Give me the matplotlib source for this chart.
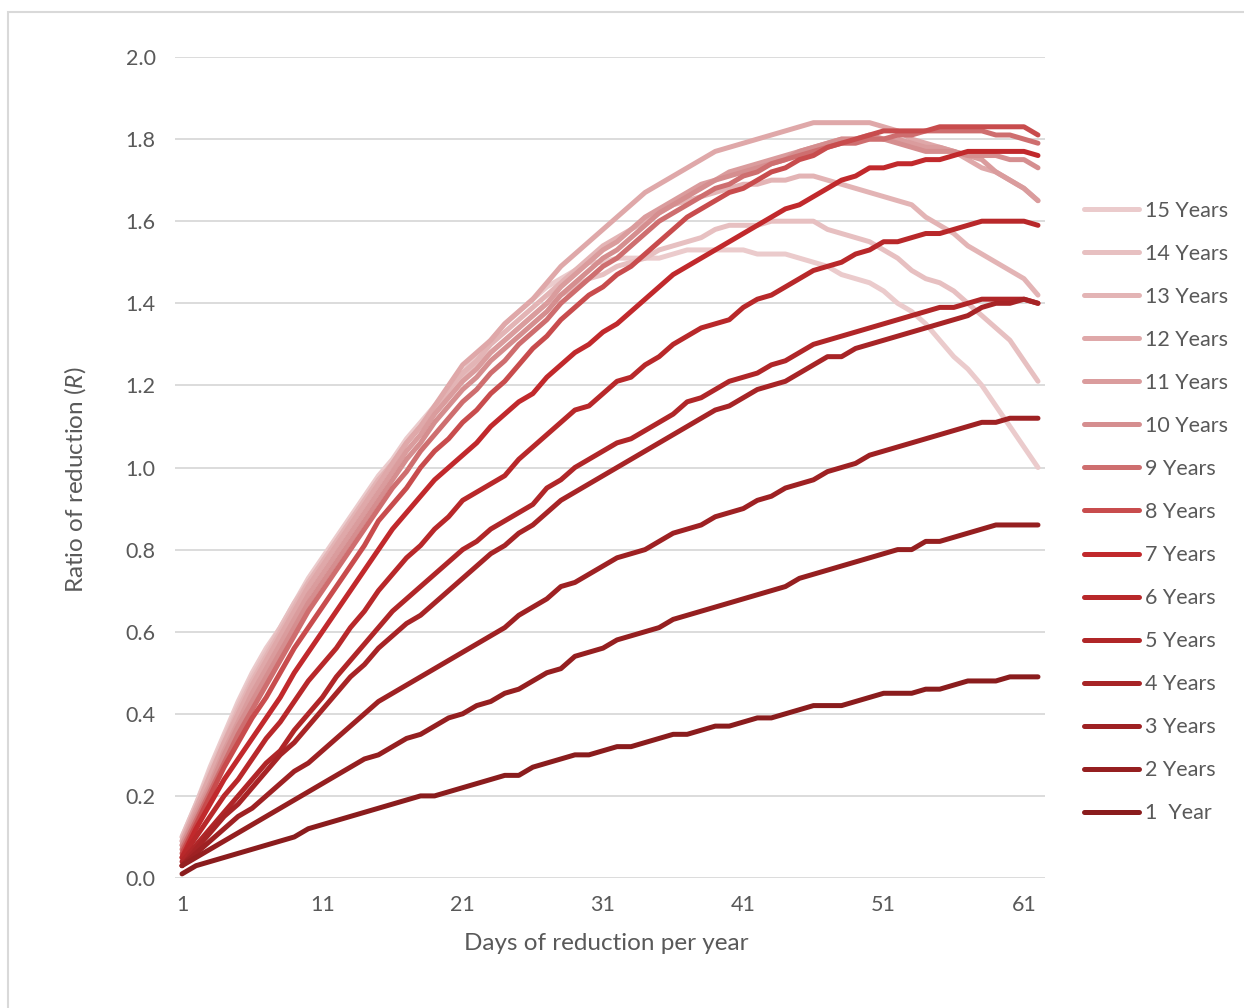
import matplotlib
matplotlib.use("Agg")
import matplotlib.pyplot as plt
from matplotlib.patches import Rectangle

plt.rcParams['font.family'] = ['Lato', 'DejaVu Sans']
plt.rcParams['mathtext.fontset'] = 'custom'
plt.rcParams['mathtext.rm'] = 'Lato'
plt.rcParams['mathtext.it'] = 'Lato:italic'

# days of reduction per year (category axis)
days = list(range(1, 63))
x_ticks = [1, 11, 21, 31, 41, 51, 61]

# ratio of reduction per number of years
r_1y = [0.01, 0.03, 0.04, 0.05, 0.06, 0.07, 0.08, 0.09, 0.10, 0.12,
        0.13, 0.14, 0.15, 0.16, 0.17, 0.18, 0.19, 0.20, 0.20, 0.21,
        0.22, 0.23, 0.24, 0.25, 0.25, 0.27, 0.28, 0.29, 0.30, 0.30,
        0.31, 0.32, 0.32, 0.33, 0.34, 0.35, 0.35, 0.36, 0.37, 0.37,
        0.38, 0.39, 0.39, 0.40, 0.41, 0.42, 0.42, 0.42, 0.43, 0.44,
        0.45, 0.45, 0.45, 0.46, 0.46, 0.47, 0.48, 0.48, 0.48, 0.49,
        0.49, 0.49]
r_2y = [0.03, 0.05, 0.07, 0.09, 0.11, 0.13, 0.15, 0.17, 0.19, 0.21,
        0.23, 0.25, 0.27, 0.29, 0.30, 0.32, 0.34, 0.35, 0.37, 0.39,
        0.40, 0.42, 0.43, 0.45, 0.46, 0.48, 0.50, 0.51, 0.54, 0.55,
        0.56, 0.58, 0.59, 0.60, 0.61, 0.63, 0.64, 0.65, 0.66, 0.67,
        0.68, 0.69, 0.70, 0.71, 0.73, 0.74, 0.75, 0.76, 0.77, 0.78,
        0.79, 0.80, 0.80, 0.82, 0.82, 0.83, 0.84, 0.85, 0.86, 0.86,
        0.86, 0.86]
r_3y = [0.03, 0.06, 0.09, 0.12, 0.15, 0.17, 0.20, 0.23, 0.26, 0.28,
        0.31, 0.34, 0.37, 0.40, 0.43, 0.45, 0.47, 0.49, 0.51, 0.53,
        0.55, 0.57, 0.59, 0.61, 0.64, 0.66, 0.68, 0.71, 0.72, 0.74,
        0.76, 0.78, 0.79, 0.80, 0.82, 0.84, 0.85, 0.86, 0.88, 0.89,
        0.90, 0.92, 0.93, 0.95, 0.96, 0.97, 0.99, 1.00, 1.01, 1.03,
        1.04, 1.05, 1.06, 1.07, 1.08, 1.09, 1.10, 1.11, 1.11, 1.12,
        1.12, 1.12]
r_4y = [0.03, 0.07, 0.11, 0.15, 0.18, 0.22, 0.26, 0.30, 0.33, 0.37,
        0.41, 0.45, 0.49, 0.52, 0.56, 0.59, 0.62, 0.64, 0.67, 0.70,
        0.73, 0.76, 0.79, 0.81, 0.84, 0.86, 0.89, 0.92, 0.94, 0.96,
        0.98, 1.00, 1.02, 1.04, 1.06, 1.08, 1.10, 1.12, 1.14, 1.15,
        1.17, 1.19, 1.20, 1.21, 1.23, 1.25, 1.27, 1.27, 1.29, 1.30,
        1.31, 1.32, 1.33, 1.34, 1.35, 1.36, 1.37, 1.39, 1.40, 1.40,
        1.41, 1.40]
r_5y = [0.04, 0.08, 0.12, 0.16, 0.20, 0.24, 0.28, 0.31, 0.36, 0.40,
        0.44, 0.49, 0.53, 0.57, 0.61, 0.65, 0.68, 0.71, 0.74, 0.77,
        0.80, 0.82, 0.85, 0.87, 0.89, 0.91, 0.95, 0.97, 1.00, 1.02,
        1.04, 1.06, 1.07, 1.09, 1.11, 1.13, 1.16, 1.17, 1.19, 1.21,
        1.22, 1.23, 1.25, 1.26, 1.28, 1.30, 1.31, 1.32, 1.33, 1.34,
        1.35, 1.36, 1.37, 1.38, 1.39, 1.39, 1.40, 1.41, 1.41, 1.41,
        1.41, 1.40]
r_6y = [0.05, 0.10, 0.15, 0.20, 0.24, 0.29, 0.34, 0.38, 0.43, 0.48,
        0.52, 0.56, 0.61, 0.65, 0.70, 0.74, 0.78, 0.81, 0.85, 0.88,
        0.92, 0.94, 0.96, 0.98, 1.02, 1.05, 1.08, 1.11, 1.14, 1.15,
        1.18, 1.21, 1.22, 1.25, 1.27, 1.30, 1.32, 1.34, 1.35, 1.36,
        1.39, 1.41, 1.42, 1.44, 1.46, 1.48, 1.49, 1.50, 1.52, 1.53,
        1.55, 1.55, 1.56, 1.57, 1.57, 1.58, 1.59, 1.60, 1.60, 1.60,
        1.60, 1.59]
r_7y = [0.05, 0.12, 0.18, 0.24, 0.29, 0.34, 0.39, 0.44, 0.50, 0.55,
        0.60, 0.65, 0.70, 0.75, 0.80, 0.85, 0.89, 0.93, 0.97, 1.00,
        1.03, 1.06, 1.10, 1.13, 1.16, 1.18, 1.22, 1.25, 1.28, 1.30,
        1.33, 1.35, 1.38, 1.41, 1.44, 1.47, 1.49, 1.51, 1.53, 1.55,
        1.57, 1.59, 1.61, 1.63, 1.64, 1.66, 1.68, 1.70, 1.71, 1.73,
        1.73, 1.74, 1.74, 1.75, 1.75, 1.76, 1.77, 1.77, 1.77, 1.77,
        1.77, 1.76]
r_8y = [0.06, 0.13, 0.20, 0.27, 0.33, 0.39, 0.44, 0.50, 0.56, 0.61,
        0.66, 0.71, 0.76, 0.81, 0.87, 0.91, 0.95, 1.00, 1.04, 1.07,
        1.11, 1.14, 1.18, 1.21, 1.25, 1.29, 1.32, 1.36, 1.39, 1.42,
        1.44, 1.47, 1.49, 1.52, 1.55, 1.58, 1.61, 1.63, 1.65, 1.67,
        1.68, 1.70, 1.72, 1.73, 1.75, 1.76, 1.78, 1.79, 1.80, 1.81,
        1.82, 1.82, 1.82, 1.82, 1.83, 1.83, 1.83, 1.83, 1.83, 1.83,
        1.83, 1.81]
r_9y = [0.07, 0.14, 0.21, 0.28, 0.35, 0.41, 0.47, 0.53, 0.59, 0.65,
        0.70, 0.75, 0.80, 0.85, 0.90, 0.95, 0.99, 1.04, 1.08, 1.12,
        1.16, 1.19, 1.23, 1.26, 1.30, 1.33, 1.36, 1.40, 1.43, 1.46,
        1.49, 1.51, 1.54, 1.57, 1.60, 1.62, 1.64, 1.66, 1.68, 1.69,
        1.71, 1.72, 1.74, 1.75, 1.76, 1.77, 1.78, 1.79, 1.79, 1.80,
        1.80, 1.81, 1.81, 1.82, 1.82, 1.82, 1.82, 1.82, 1.81, 1.81,
        1.80, 1.79]
r_10y = [0.08, 0.15, 0.22, 0.30, 0.37, 0.43, 0.49, 0.55, 0.61, 0.67,
         0.72, 0.77, 0.82, 0.87, 0.92, 0.97, 1.02, 1.06, 1.11, 1.15,
         1.19, 1.22, 1.26, 1.29, 1.32, 1.35, 1.38, 1.42, 1.45, 1.48,
         1.51, 1.53, 1.56, 1.59, 1.62, 1.64, 1.66, 1.68, 1.70, 1.71,
         1.72, 1.73, 1.74, 1.75, 1.77, 1.78, 1.79, 1.80, 1.80, 1.81,
         1.80, 1.79, 1.78, 1.77, 1.77, 1.77, 1.76, 1.76, 1.76, 1.75,
         1.75, 1.73]
r_11y = [0.08, 0.16, 0.23, 0.31, 0.38, 0.45, 0.51, 0.57, 0.63, 0.69,
         0.74, 0.79, 0.84, 0.89, 0.94, 0.99, 1.04, 1.08, 1.13, 1.17,
         1.21, 1.24, 1.28, 1.31, 1.34, 1.37, 1.40, 1.44, 1.47, 1.50,
         1.53, 1.55, 1.58, 1.61, 1.63, 1.65, 1.67, 1.69, 1.70, 1.72,
         1.73, 1.74, 1.75, 1.76, 1.77, 1.78, 1.79, 1.80, 1.80, 1.80,
         1.80, 1.80, 1.79, 1.78, 1.78, 1.77, 1.76, 1.75, 1.72, 1.70,
         1.68, 1.65]
r_12y = [0.09, 0.17, 0.25, 0.33, 0.40, 0.47, 0.53, 0.59, 0.65, 0.71,
         0.76, 0.81, 0.86, 0.91, 0.96, 1.01, 1.06, 1.10, 1.15, 1.20,
         1.25, 1.28, 1.31, 1.35, 1.38, 1.41, 1.45, 1.49, 1.52, 1.55,
         1.58, 1.61, 1.64, 1.67, 1.69, 1.71, 1.73, 1.75, 1.77, 1.78,
         1.79, 1.80, 1.81, 1.82, 1.83, 1.84, 1.84, 1.84, 1.84, 1.84,
         1.83, 1.82, 1.80, 1.79, 1.78, 1.77, 1.75, 1.73, 1.72, 1.70,
         1.68, 1.65]
r_13y = [0.09, 0.17, 0.25, 0.33, 0.41, 0.48, 0.54, 0.60, 0.66, 0.72,
         0.77, 0.82, 0.87, 0.92, 0.97, 1.01, 1.06, 1.10, 1.14, 1.19,
         1.23, 1.26, 1.30, 1.33, 1.36, 1.39, 1.42, 1.45, 1.48, 1.51,
         1.54, 1.56, 1.58, 1.60, 1.62, 1.64, 1.65, 1.66, 1.67, 1.68,
         1.69, 1.69, 1.70, 1.70, 1.71, 1.71, 1.70, 1.69, 1.68, 1.67,
         1.66, 1.65, 1.64, 1.61, 1.59, 1.57, 1.54, 1.52, 1.50, 1.48,
         1.46, 1.42]
r_14y = [0.10, 0.18, 0.26, 0.34, 0.42, 0.49, 0.55, 0.61, 0.67, 0.72,
         0.77, 0.82, 0.87, 0.92, 0.97, 1.01, 1.06, 1.10, 1.14, 1.18,
         1.22, 1.25, 1.28, 1.31, 1.34, 1.37, 1.40, 1.42, 1.44, 1.46,
         1.47, 1.49, 1.50, 1.51, 1.53, 1.54, 1.55, 1.56, 1.58, 1.59,
         1.59, 1.59, 1.60, 1.60, 1.60, 1.60, 1.58, 1.57, 1.56, 1.55,
         1.53, 1.51, 1.48, 1.46, 1.45, 1.43, 1.40, 1.37, 1.34, 1.31,
         1.26, 1.21]
r_15y = [0.10, 0.18, 0.27, 0.35, 0.43, 0.50, 0.56, 0.61, 0.67, 0.73,
         0.78, 0.83, 0.88, 0.93, 0.98, 1.02, 1.07, 1.11, 1.15, 1.19,
         1.23, 1.27, 1.31, 1.35, 1.38, 1.41, 1.44, 1.46, 1.48, 1.50,
         1.50, 1.51, 1.51, 1.51, 1.51, 1.52, 1.53, 1.53, 1.53, 1.53,
         1.53, 1.52, 1.52, 1.52, 1.51, 1.50, 1.49, 1.47, 1.46, 1.45,
         1.43, 1.40, 1.38, 1.35, 1.31, 1.27, 1.24, 1.20, 1.15, 1.10,
         1.05, 1.00]

# legend order (15 years first, drawn first -> underneath)
series = [r_15y, r_14y, r_13y, r_12y, r_11y, r_10y, r_9y, r_8y,
          r_7y, r_6y, r_5y, r_4y, r_3y, r_2y, r_1y]
labels = ['15 Years', '14 Years', '13 Years', '12 Years', '11 Years',
          '10 Years', '9 Years', '8 Years', '7 Years', '6 Years',
          '5 Years', '4 Years', '3 Years', '2 Years', '1  Year']
colors = ['#EBCBCC', '#E7C0C1', '#E3B4B5', '#DFA8A9', '#DA9C9D',
          '#D58E8F', '#CE6E6F', '#C84C4D', '#C1292C', '#B8282A',
          '#B02628', '#A72426', '#9E2123', '#951F20', '#8A1C1D']

text_grey = '#595959'
grid_grey = '#D9D9D9'

fig = plt.figure(figsize=(12.44, 10.08), dpi=100)
fig.patches.append(Rectangle((8 / 1244, -0.1), 2, 1 - 12 / 1008 + 0.1,
                             transform=fig.transFigure, fill=False,
                             edgecolor=grid_grey, linewidth=1.5))

ax = fig.add_axes([175 / 1244, 1 - 878 / 1008, 870 / 1244, 821 / 1008])

handles = []
for vals, lab, col in zip(series, labels, colors):
    line, = ax.plot(days, vals, color=col, linewidth=3.6, label=lab,
                    solid_capstyle='round', solid_joinstyle='round')
    handles.append(line)

ax.set_xlim(0.5, 62.5)
ax.set_ylim(0, 2.0)
ax.set_yticks([i / 5 for i in range(11)])
ax.set_yticklabels([f'{i / 5:.1f}' for i in range(11)])
ax.set_xticks(x_ticks)
ax.set_xticklabels([str(t) for t in x_ticks])
ax.tick_params(axis='both', length=0, labelsize=15.5, colors=text_grey)
ax.tick_params(axis='y', pad=14)
ax.tick_params(axis='x', pad=12)

ax.grid(axis='y', color=grid_grey, linewidth=1.3)
ax.set_axisbelow(True)
for s in ax.spines.values():
    s.set_visible(False)

fig.text(75 / 1244, 1 - 480 / 1008, r'Ratio of reduction ($\mathit{R}$)',
         rotation=90, ha='center', va='center', fontsize=17.5, color=text_grey)
fig.text(606 / 1244, 1 - 944 / 1008, 'Days of reduction per year',
         ha='center', va='center', fontsize=17.5, color=text_grey)

fig.legend(handles, labels, loc='center left',
           bbox_to_anchor=(1084 / 1244, 1 - 512 / 1008), frameon=False,
           fontsize=15.5, handlelength=2.55, handletextpad=0.3,
           labelspacing=1.07, borderaxespad=0, borderpad=0,
           labelcolor=text_grey)

fig.savefig('out.png', dpi=100)
